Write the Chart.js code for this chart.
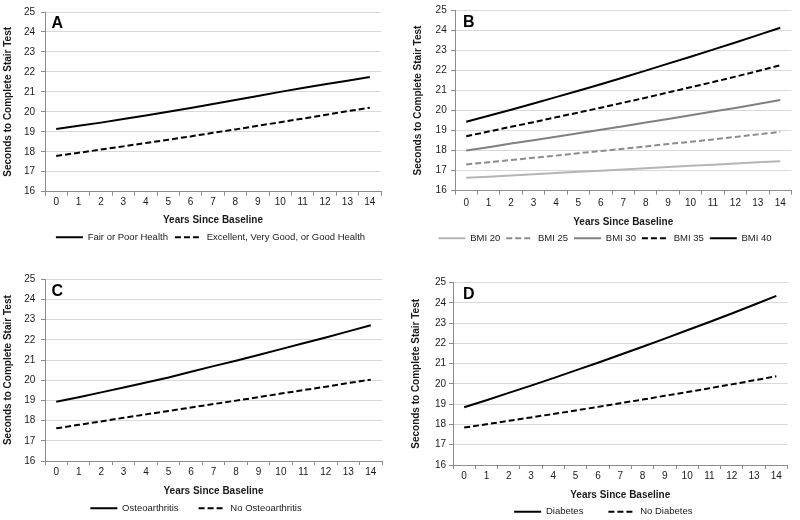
<!DOCTYPE html>
<html>
<head>
<meta charset="utf-8">
<script src="https://cdn.jsdelivr.net/npm/chart.js@4.4.1/dist/chart.umd.min.js"></script>
<style>
  html, body { margin: 0; padding: 0; background: #fff; overflow: hidden; width: 800px; height: 520px; }
  canvas { position: absolute; }
</style>
</head>
<body>
<canvas id="panelA" width="400" height="280" style="left:0px;top:0px"></canvas>
<canvas id="panelB" width="400" height="280" style="left:400px;top:0px"></canvas>
<canvas id="panelC" width="400" height="280" style="left:0px;top:250px"></canvas>
<canvas id="panelD" width="400" height="280" style="left:400px;top:250px"></canvas>
<script>
// ---------- data ----------
const years = ['0','1','2','3','4','5','6','7','8','9','10','11','12','13','14'];
const yMin = 16, yMax = 25, yStep = 1;

// Panel A
const fairPoorHealth = [19.14,19.30,19.46,19.64,19.82,20.00,20.19,20.39,20.59,20.79,21.00,21.19,21.38,21.56,21.74];
const goodHealth     = [17.79,17.95,18.11,18.27,18.44,18.60,18.77,18.95,19.12,19.30,19.48,19.66,19.84,20.03,20.21];
// Panel B
const bmi20 = [16.64,16.70,16.76,16.82,16.88,16.94,17.00,17.06,17.12,17.18,17.24,17.30,17.36,17.42,17.47];
const bmi25 = [17.31,17.42,17.53,17.64,17.75,17.87,17.98,18.09,18.21,18.33,18.44,18.56,18.68,18.81,18.93];
const bmi30 = [18.00,18.17,18.35,18.52,18.69,18.87,19.04,19.22,19.40,19.58,19.76,19.95,20.13,20.33,20.52];
const bmi35 = [18.72,18.95,19.19,19.42,19.66,19.90,20.14,20.39,20.64,20.90,21.16,21.42,21.69,21.97,22.26];
const bmi40 = [19.44,19.74,20.04,20.35,20.67,20.99,21.31,21.65,21.99,22.34,22.68,23.04,23.39,23.76,24.13];
// Panel C
const osteoarthritis   = [18.93,19.16,19.40,19.64,19.89,20.14,20.42,20.70,20.97,21.25,21.54,21.83,22.12,22.42,22.72];
const noOsteoarthritis = [17.62,17.79,17.96,18.14,18.31,18.48,18.65,18.82,18.99,19.16,19.34,19.51,19.68,19.86,20.03];
// Panel D
const diabetes   = [18.85,19.20,19.56,19.92,20.29,20.67,21.05,21.44,21.84,22.24,22.65,23.06,23.48,23.91,24.35];
const noDiabetes = [17.85,18.01,18.18,18.35,18.52,18.69,18.87,19.05,19.23,19.42,19.60,19.79,19.98,20.18,20.38];

// ---------- styling ----------
const FONT = '"Liberation Sans", Arial, sans-serif';
const TEXT = '#1a1a1a';
const GRID = '#d9d9d9';
const AXIS = '#8c8c8c';
const CW = 400, CH = 280;
const DASH = [6, 3];

const panelLetterPlugin = {
  id: 'panelLetter',
  afterDraw(chart, args, opts) {
    const ctx = chart.ctx;
    ctx.save();
    ctx.font = 'bold 16px ' + FONT;
    ctx.fillStyle = '#000';
    ctx.textBaseline = 'alphabetic';
    ctx.textAlign = 'left';
    ctx.fillText(opts.text, opts.x, opts.y);
    ctx.restore();
  }
};
const legendShiftPlugin = {
  id: 'legendShift',
  afterLayout(chart, args, opts) {
    const lg = chart.legend;
    if (!lg || opts.center == null) return;
    const dx = opts.center - (lg.left + lg.right) / 2;
    lg.left += dx; lg.right += dx;
  }
};

function legendLabels(chart) {
  return chart.data.datasets.map((d, i) => ({
    text: d.label,
    datasetIndex: i,
    hidden: false,
    fillStyle: d.borderColor,
    strokeStyle: d.borderColor,
    fontColor: TEXT,
    lineWidth: d.borderWidth,
    lineDash: d.borderDash,
    lineCap: 'butt',
    pointStyle: 'line'
  }));
}

function ds(label, data, color, dashed, width) {
  return { label, data, borderColor: color, backgroundColor: color, borderWidth: width || 2,
           borderDash: dashed ? DASH : [], pointRadius: 0, pointHoverRadius: 0, tension: 0, fill: false };
}

function buildPanel(id, letter, datasets, g) {
  const TL = 4, FT = 10, FL = 9.5, LH = FT * 1.2;
  const P = g.legendPad;
  const legendH = FL + P + 10;
  const legendTop = g.legendY - P - FL / 2;
  const xH = legendTop - g.bottom;
  const padBottom = CH - legendTop - legendH;
  new Chart(document.getElementById(id), {
    type: 'line',
    data: { labels: years, datasets },
    plugins: [panelLetterPlugin, legendShiftPlugin],
    options: {
      responsive: false,
      animation: false,
      devicePixelRatio: 1,
      layout: { padding: { left: 0, top: g.top, right: CW - g.right, bottom: padBottom } },
      scales: {
        x: {
          type: 'category', offset: true,
          grid: { offset: true, drawOnChartArea: false, drawTicks: true, tickLength: TL, tickColor: AXIS, lineWidth: 1 },
          border: { display: true, color: AXIS, width: 1 },
          ticks: { autoSkip: false, maxRotation: 0, color: TEXT, font: { family: FONT, size: FT },
                   padding: g.xTickY - g.bottom - TL - LH / 2 },
          title: { display: true, text: 'Years Since Baseline', color: TEXT,
                   font: { family: FONT, size: FT, weight: 'bold' },
                   padding: { top: 0, bottom: legendTop - LH / 2 - g.xTitleY } },
          afterFit: s => { s.height = xH; }
        },
        y: {
          min: yMin, max: yMax,
          grid: { color: GRID, lineWidth: 1, drawTicks: true, tickLength: TL, tickColor: AXIS },
          border: { display: true, color: AXIS, width: 1 },
          ticks: { stepSize: yStep, color: TEXT, font: { family: FONT, size: FT }, padding: g.yTickGap - TL },
          title: { display: true, text: 'Seconds to Complete Stair Test', color: TEXT,
                   font: { family: FONT, size: FT, weight: 'bold' },
                   padding: { top: g.yTitleX - LH / 2, bottom: 0 } },
          afterFit: s => { s.width = g.left; }
        }
      },
      plugins: {
        legend: {
          position: 'bottom',
          labels: { usePointStyle: true, pointStyle: 'line', pointStyleWidth: 27, boxHeight: FL,
                    padding: P, color: TEXT, font: { family: FONT, size: FL },
                    generateLabels: legendLabels }
        },
        tooltip: { enabled: false },
        panelLetter: { text: letter, x: g.letterX, y: g.letterY },
        legendShift: { center: g.legendX }
      }
    }
  });
}

buildPanel('panelA', 'A', [
  ds('Fair or Poor Health', fairPoorHealth, '#000', false),
  ds('Excellent, Very Good, or Good Health', goodHealth, '#000', true)
], { left: 45, right: 381, top: 7.3, bottom: 191.7, xTickY: 202, xTitleY: 220, legendY: 237.3,
     legendX: 210.5, legendPad: 7, yTitleX: 8.7, yTickGap: 10, letterX: 51.5, letterY: 27.7 });

buildPanel('panelB', 'B', [
  ds('BMI 20', bmi20, '#b5b5b5', false),
  ds('BMI 25', bmi25, '#8c8c8c', true),
  ds('BMI 30', bmi30, '#808080', false),
  ds('BMI 35', bmi35, '#000', true),
  ds('BMI 40', bmi40, '#000', false)
], { left: 55, right: 391.5, top: 7.3, bottom: 190.7, xTickY: 203.3, xTitleY: 222.7, legendY: 238.3,
     legendX: 205, legendPad: 6, yTitleX: 18.3, yTickGap: 8.3, letterX: 63, letterY: 26.7 });

buildPanel('panelC', 'C', [
  ds('Osteoarthritis', osteoarthritis, '#000', false),
  ds('No Osteoarthritis', noOsteoarthritis, '#000', true)
], { left: 45, right: 382, top: 29.3, bottom: 211, xTickY: 222.3, xTitleY: 241.7, legendY: 258.3,
     legendX: 196, legendPad: 20, yTitleX: 8.7, yTickGap: 9.7, letterX: 51.5, letterY: 46 });

buildPanel('panelD', 'D', [
  ds('Diabetes', diabetes, '#000', false),
  ds('No Diabetes', noDiabetes, '#000', true)
], { left: 53, right: 387.5, top: 32.7, bottom: 215, xTickY: 226.7, xTitleY: 245, legendY: 261.7,
     legendX: 203.3, legendPad: 25, yTitleX: 16.7, yTickGap: 7, letterX: 63, letterY: 49.3 });
</script>
</body>
</html>
